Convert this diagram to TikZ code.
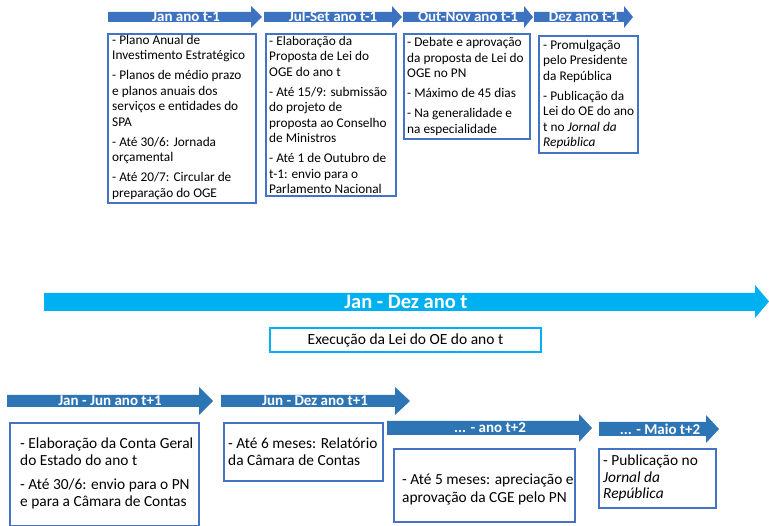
\documentclass[tikz,border=0pt]{standalone}
\usepackage{fontspec}
\setmainfont{Carlito}
\definecolor{arrtop}{HTML}{3D72C0}
\definecolor{arrbot}{HTML}{2E75B6}
\definecolor{boxblue}{HTML}{4472C4}
\definecolor{cyanarr}{HTML}{00B0F0}
\begin{document}
\begin{tikzpicture}[x=1pt,y=-1pt,
  frame/.style={draw=boxblue, line width=1.6pt, anchor=north west, inner sep=0pt},
  ttext/.style={anchor=west, align=left, inner sep=0pt, font=\fontsize{13.3}{15.5}\selectfont},
  btext/.style={anchor=west, align=left, inner sep=0pt, font=\fontsize{15.4}{17.5}\selectfont},
  alabel/.style={text=white, inner sep=0pt, font=\bfseries\fontsize{15}{16}\selectfont},
  blabel/.style={text=white, inner sep=0pt, font=\bfseries\fontsize{15}{16}\selectfont},
]
\useasboundingbox (0,0) rectangle (769,526);

% ---- top arrows ----
\fill[arrtop] (108,12) -- (251,12) -- (251,6) -- (262,17) -- (251,28) -- (251,22) -- (108,22) -- cycle;
\fill[arrtop] (264,12) -- (392,12) -- (392,6) -- (402,17) -- (392,28) -- (392,22) -- (264,22) -- cycle;
\fill[arrtop] (403,12) -- (524,12) -- (524,6) -- (533,17) -- (524,28) -- (524,22) -- (403,22) -- cycle;
\fill[arrtop] (534,12) -- (624,12) -- (624,6) -- (633,17) -- (624,28) -- (624,22) -- (534,22) -- cycle;
\node[alabel] (l1) at (186,16.5) {Jan ano t-1};
\node[alabel] (l2) at (333,16.5) {Jul-Set ano t-1};
\node[alabel] (l3) at (468,16.5) {Out-Nov ano t-1};
\node[alabel] (l4) at (584,16.5) {Dez ano t-1};

% ---- top boxes ----
\node[frame, minimum width=148pt, minimum height=169pt] (b1) at (107,33) {};
\node[ttext] (t1) at ([xshift=5pt,yshift=1pt]b1.west) {- Plano Anual de\\Investimento Estratégico\\[4.5pt]- Planos de médio prazo\\e planos anuais dos\\serviços e entidades do\\SPA\\[4.5pt]- Até 30/6: Jornada\\orçamental\\[4.5pt]- Até 20/7: Circular de\\preparação do OGE};

\node[frame, minimum width=130pt, minimum height=162pt] (b2) at (265,33) {};
\node[ttext] (t2) at ([xshift=4pt]b2.west) {- Elaboração da\\Proposta de Lei do\\OGE do ano t\\[4.5pt]- Até 15/9: submissão\\do projeto de\\proposta ao Conselho\\de Ministros\\[4.5pt]- Até 1 de Outubro de\\t-1: envio para o\\Parlamento Nacional};

\node[frame, minimum width=126pt, minimum height=105pt] (b3) at (403,33) {};
\node[ttext] (t3) at ([xshift=4pt]b3.west) {- Debate e aprovação\\da proposta de Lei do\\OGE no PN\\[4.5pt]- Máximo de 45 dias\\[4.5pt]- Na generalidade e\\na especialidade};

\node[frame, minimum width=99pt, minimum height=117pt] (b4) at (538,35) {};
\node[ttext] (t4) at ([xshift=5pt]b4.west) {- Promulgação\\pelo Presidente\\da República\\[4.5pt]- Publicação da\\Lei do OE do ano\\t no \textit{Jornal da}\\\textit{República}};

% ---- middle ----
\fill[cyanarr] (44,293) -- (755,293) -- (755,285) -- (769,301.5) -- (755,318) -- (755,311) -- (44,311) -- cycle;
\node[text=white, inner sep=0pt, font=\bfseries\fontsize{20.5}{22}\selectfont] (lm) at (406,302) {Jan - Dez ano t};
\node[draw=cyanarr, line width=1.6pt, minimum width=271pt, minimum height=24pt, inner sep=0pt,
      font=\fontsize{15.5}{17}\selectfont] (exec) at (405.5,340) {Execução da Lei do OE do ano t};

% ---- bottom arrows ----
\fill[arrbot] (7,395) -- (199,395) -- (199,387) -- (213,401) -- (199,415) -- (199,407) -- (7,407) -- cycle;
\fill[arrbot] (221,395) -- (395,395) -- (395,387) -- (410,401) -- (395,415) -- (395,407) -- (221,407) -- cycle;
\fill[arrbot] (387,421) -- (579,421) -- (579,414) -- (592,428) -- (579,442) -- (579,435) -- (387,435) -- cycle;
\fill[arrbot] (599,422) -- (706,422) -- (706,415) -- (719,429) -- (706,443) -- (706,436) -- (599,436) -- cycle;
\node[blabel] (la) at (110,401) {Jan - Jun ano t+1};
\node[blabel] (lb) at (315,401) {Jun - Dez ano t+1};
\node[blabel] (lc) at (490,428) {... - ano t+2};
\node[blabel] (ld) at (660,429) {... - Maio t+2};

% ---- bottom boxes ----
\node[frame, minimum width=189pt, minimum height=103pt] (ba) at (9,422) {};
\node[btext] (ta) at ([xshift=11pt,yshift=1pt]ba.west) {- Elaboração da Conta Geral\\do Estado do ano t\\[6pt]- Até 30/6: envio para o PN\\e para a Câmara de Contas};

\node[frame, minimum width=159pt, minimum height=58pt] (bb) at (223,422) {};
\node[btext] (tb) at ([xshift=5pt]bb.west) {- Até 6 meses: Relatório\\da Câmara de Contas};

\node[frame, minimum width=181pt, minimum height=73pt] (bc) at (393,448) {};
\node[btext] (tc) at ([xshift=9pt,yshift=-4pt]bc.west) {- Até 5 meses: apreciação e\\aprovação da CGE pelo PN};

\node[frame, minimum width=117pt, minimum height=59pt] (bd) at (598,448) {};
\node[btext, font=\fontsize{15.4}{16.5}\selectfont] (td) at ([xshift=5pt]bd.west) {- Publicação no\\\textit{Jornal da}\\\textit{República}};
\end{tikzpicture}
\end{document}
